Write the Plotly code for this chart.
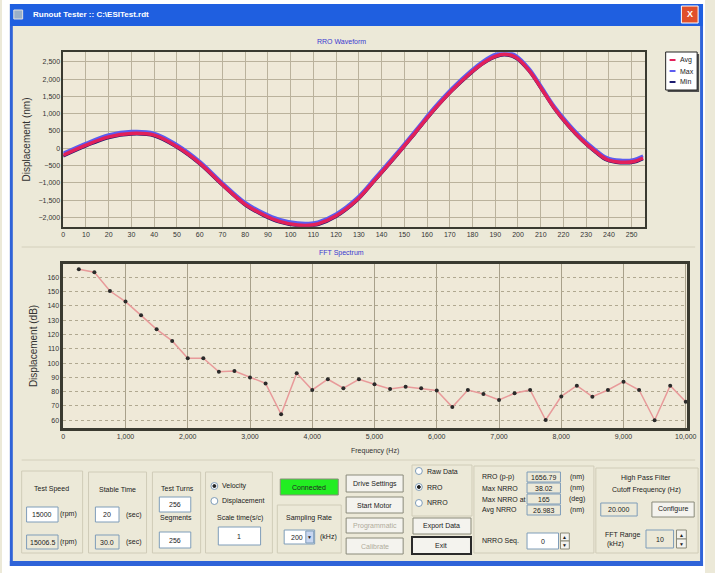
import plotly.graph_objects as go

W, H = 715, 573
FONT = "Liberation Sans"

# ---------------- data ----------------
rro_x = [0, 10, 20, 30, 40, 50, 60, 70, 80, 88, 95, 103, 108, 112, 120, 129, 137, 146,
         155, 163, 171, 179, 185, 190, 194, 199, 205, 210, 216, 222, 228, 234, 239, 245, 251, 255]
rro_avg = [-200, 90, 330, 430, 380, 50, -430, -1050, -1620, -1920, -2110, -2215, -2225, -2185,
           -1950, -1500, -920, -240, 470, 1110, 1680, 2170, 2480, 2660, 2720, 2630, 2240, 1760,
           1160, 670, 250, -90, -320, -400, -380, -280]
rro_max = [-140, 150, 390, 490, 440, 110, -370, -990, -1560, -1860, -2050, -2155, -2165, -2125,
           -1890, -1440, -860, -180, 530, 1170, 1740, 2230, 2540, 2720, 2780, 2690, 2300, 1820,
           1220, 730, 310, -30, -260, -340, -320, -220]
rro_min = [-230, 60, 300, 400, 350, 20, -460, -1080, -1650, -1950, -2140, -2245, -2255, -2215,
           -1980, -1530, -950, -270, 440, 1080, 1650, 2140, 2450, 2630, 2690, 2600, 2210, 1730,
           1130, 640, 220, -120, -350, -430, -410, -310]

fft_freq = [250, 500, 750, 1000, 1250, 1500, 1750, 2000, 2250, 2500, 2750, 3000, 3250, 3500,
            3750, 4000, 4250, 4500, 4750, 5000, 5250, 5500, 5750, 6000, 6250, 6500, 6750, 7000,
            7250, 7500, 7750, 8000, 8250, 8500, 8750, 9000, 9250, 9500, 9750, 10000]
fft_db = [165.6, 163.5, 150.4, 143.0, 133.4, 123.6, 115.5, 103.4, 103.4, 93.9, 94.4, 90.0, 85.8,
          64.2, 92.9, 81.2, 88.7, 82.4, 88.7, 85.2, 81.9, 83.5, 82.4, 80.8, 69.2, 81.2, 78.4,
          74.2, 78.9, 81.2, 60.2, 76.7, 84.2, 76.5, 81.2, 87.0, 81.2, 60.0, 84.2, 73.0]

rro_ticks = [-2000, -1500, -1000, -500, 0, 500, 1000, 1500, 2000, 2500]
legend_names = ["Avg", "Max", "Min"]
legend_colors = ["#e2205a", "#5c5cf0", "#1c1c70"]

# ---------------- helpers ----------------
def px(x):
    return x / W

def py(y):
    return 1 - y / H

shapes = []
annotations = []

def rect(x0, y0, x1, y1, fill=None, line=None, lw=1, layer="below"):
    shapes.append(dict(type="rect", xref="paper", yref="paper",
                       x0=px(x0), x1=px(x1), y0=py(y1), y1=py(y0),
                       fillcolor=fill or "rgba(0,0,0,0)",
                       line=dict(color=line or "rgba(0,0,0,0)", width=lw if line else 0),
                       layer=layer))

def hline(x0, x1, y, color, lw=1, layer="below"):
    shapes.append(dict(type="line", xref="paper", yref="paper", x0=px(x0), x1=px(x1),
                       y0=py(y), y1=py(y), line=dict(color=color, width=lw), layer=layer))

def circle(cx, cy, r, fill="white", line="#7f9db9"):
    shapes.append(dict(type="circle", xref="paper", yref="paper",
                       x0=px(cx - r), x1=px(cx + r), y0=py(cy + r), y1=py(cy - r),
                       fillcolor=fill, line=dict(color=line, width=1), layer="above"))

def text(x, y, s, size=7, color="#222222", anchor="center", bold=False):
    if bold:
        s = "<b>" + s + "</b>"
    annotations.append(dict(x=px(x), y=py(y), xref="paper", yref="paper", text=s,
                            showarrow=False, xanchor=anchor, yanchor="middle",
                            font=dict(size=size, color=color, family=FONT)))

def group(x0, y0, x1, y1):
    rect(x0, y0, x1, y1, line="#d0ccb8", lw=1)

def edit(x0, y0, x1, y1, s, fill="white"):
    rect(x0, y0, x1, y1, fill=fill, line="#7f9db9", lw=1)
    text((x0 + x1) / 2, (y0 + y1) / 2, s)

def button(x0, y0, x1, y1, s, enabled=True, thick=False):
    rect(x0, y0, x1, y1, fill="#f4f3ee", line="#2a2a2a" if thick else "#8a8a7a",
         lw=2 if thick else 1)
    text((x0 + x1) / 2, (y0 + y1) / 2, s, color="#222222" if enabled else "#b0ac9c")

def radio(x, y, label, checked=False):
    circle(x, y, 3.5)
    if checked:
        circle(x, y, 1.5, fill="#222222", line="#222222")
    text(x + 6, y, label, anchor="left")

# ---------------- window chrome ----------------
rect(0, 0, W, 4, fill="white")
rect(0, 0, 8, H, fill="white")
rect(713, 0, W, H, fill="white")
rect(0, 566, W, H, fill="white")
rect(8, 4, 713, 26, fill="#1f5fe0")
rect(8, 26, 11, 566, fill="#2f63d8")
rect(710, 26, 713, 566, fill="#2f63d8")
rect(8, 561, 713, 566, fill="#2f63d8")
rect(12, 10, 21, 19, fill="#9ab0c8", line="#e0e0e0")
text(30, 15, "Runout Tester :: C:\\ESITest.rdt", size=8, color="white", anchor="left", bold=True)
rect(691, 6, 708, 23, fill="#e0502a", line="white")
text(699.5, 14.5, "X", size=9, color="white", bold=True)

# chart titles and separators
text(345, 42, "RRO Waveform", color="#3a3ad0")
text(345, 253, "FFT Spectrum", color="#3a3ad0")
hline(20, 705, 247, "#d4d0bc")
hline(20, 705, 460, "#d4d0bc")

# manual legend
rect(677, 54, 709, 92, fill="#505050")
rect(675, 52, 707, 90, fill="white", line="#222222", lw=1)
for i, (nm, col) in enumerate(zip(legend_names, legend_colors)):
    yy = 60 + i * 11
    hline(679, 685, yy, col, lw=2, layer="above")
    text(688, yy, nm, anchor="left")

# ---------------- control panel ----------------
group(20, 471, 82, 553)
text(50, 489, "Test Speed")
edit(25, 507, 57, 522, "15000")
text(68, 514, "(rpm)")
edit(25, 535, 57, 549, "15006.5", fill="#ece9d8")
text(68, 542, "(rpm)")

group(88, 472, 147, 553)
text(117, 489, "Stable Time")
edit(95, 507, 119, 522, "20")
text(134, 515, "(sec)")
edit(95, 535, 119, 549, "30.0", fill="#ece9d8")
text(134, 542, "(sec)")

group(153, 472, 202, 553)
text(178, 488, "Test Turns")
edit(160, 497, 192, 512, "256")
text(177, 518, "Segments")
edit(160, 532, 192, 548, "256")

group(207, 472, 275, 553)
radio(216, 486, "Velocity", checked=True)
radio(216, 501, "Displacement")
text(242, 518, "Scale time(s/c)")
edit(220, 527, 263, 545, "1")

rect(283, 479, 342, 495, fill="#22ee22", line="#8a8a7a")
text(312, 487, "Connected")

group(280, 505, 345, 553)
text(312, 518, "Sampling Rate")
edit(287, 530, 318, 544, "200  ")
rect(309, 531, 317, 543, fill="#c8d6f0", line="#7f9db9")
text(313, 537, "▼", size=5)
text(332, 537, "(kHz)")

button(350, 475, 408, 492, "Drive Settings")
button(350, 497, 408, 513, "Start Motor")
button(350, 518, 408, 533, "Programmatic", enabled=False)
button(350, 538, 408, 554, "Calibrate", enabled=False)

group(417, 465, 478, 516)
radio(424, 471, "Raw Data")
radio(424, 487, "RRO", checked=True)
radio(424, 503, "NRRO")
button(418, 518, 477, 534, "Export Data")
button(417, 537, 477, 554, "Exit", thick=True)

group(480, 466, 602, 553)
stats = [("RRO (p-p)", "1656.79", "(nm)"), ("Max NRRO", "38.02", "(nm)"),
         ("Max NRRO at", "165", "(deg)"), ("Avg NRRO", "26.983", "(nm)")]
for i, (lab, val, unit) in enumerate(stats):
    yy = 477 + i * 11
    text(486, yy, lab, anchor="left")
    edit(534, yy - 5, 568, yy + 5, val, fill="#ece9d8")
    text(585, yy, unit)
text(486, 541, "NRRO Seq.", anchor="left")
edit(534, 533, 566, 549, "0")
rect(568, 533, 577, 541, fill="#f4f3ee", line="#8a8a7a")
rect(568, 541, 577, 549, fill="#f4f3ee", line="#8a8a7a")
text(572.5, 537, "▲", size=5)
text(572.5, 545, "▼", size=5)

group(604, 468, 708, 553)
text(655, 478, "High Pass Filter")
text(655, 490, "Cutoff Frequency (Hz)")
edit(609, 503, 646, 516, "20.000", fill="#ece9d8")
button(661, 502, 704, 517, "Configure")
text(611, 535, "FFT Range", anchor="left")
text(613, 544, "(kHz)", anchor="left")
edit(655, 530, 683, 548, "10", fill="#ece9d8")
rect(686, 530, 696, 539, fill="#f4f3ee", line="#8a8a7a")
rect(686, 539, 696, 548, fill="#f4f3ee", line="#8a8a7a")
text(691, 534.5, "▲", size=5)
text(691, 543.5, "▼", size=5)

# ---------------- traces ----------------
fig = go.Figure()
for nm, ys, col, w in [("Min", rro_min, legend_colors[2], 2.5),
                       ("Max", rro_max, legend_colors[1], 3),
                       ("Avg", rro_avg, legend_colors[0], 3.5)]:
    fig.add_trace(go.Scatter(x=rro_x, y=ys, name=nm, mode="lines",
                             line=dict(color=col, width=w, shape="spline", smoothing=1.0),
                             xaxis="x", yaxis="y", showlegend=False))

fig.add_trace(go.Scatter(x=fft_freq, y=fft_db, name="FFT", mode="lines+markers",
                         line=dict(color="#e89a9a", width=1.5),
                         marker=dict(color="#2a2a2a", size=4),
                         xaxis="x2", yaxis="y2", showlegend=False))

tickfont = dict(size=7, color="#333333", family=FONT)
grid = "#bab29c"

fig.update_layout(
    width=W, height=H,
    margin=dict(l=0, r=0, t=0, b=0),
    paper_bgcolor="#ece9d8",
    plot_bgcolor="#efe9d8",
    showlegend=False,
    font=dict(family=FONT, size=7, color="#222222"),
    xaxis=dict(domain=[px(62.3), px(654.3)], range=[0, 256], dtick=10, tick0=0,
               anchor="y", showgrid=True, gridcolor=grid, gridwidth=1,
               showline=True, linecolor="#3a3a30", linewidth=1.5, mirror=True,
               tickfont=tickfont, ticks="", zeroline=False),
    yaxis=dict(domain=[py(226.7), py(52.3)], range=[-2266, 2775],
               tickvals=rro_ticks, tickformat=",",
               anchor="x", showgrid=True, gridcolor=grid, gridwidth=1,
               showline=True, linecolor="#3a3a30", linewidth=1.5, mirror=True,
               tickfont=tickfont, ticks="", zeroline=False,
               title=dict(text="Displacement (nm)", font=dict(size=10, color="#333333"),
                          standoff=6)),
    xaxis2=dict(domain=[px(62.3), px(696.7)], range=[0, 10020], dtick=1000, tick0=0,
                tickformat=",", anchor="y2", showgrid=True, gridcolor="#a8a08a",
                gridwidth=1, showline=True, linecolor="#3a3a30", linewidth=2.5,
                mirror=True, tickfont=tickfont, ticks="", zeroline=False,
                title=dict(text="Frequency (Hz)", font=dict(size=7, color="#333333"),
                           standoff=9)),
    yaxis2=dict(domain=[py(428), py(264)], range=[54.6, 169.3], dtick=10, tick0=60,
                anchor="x2", showgrid=True, gridcolor="#b0a890", griddash="dot",
                gridwidth=1, showline=True, linecolor="#3a3a30", linewidth=2.5,
                mirror=True, tickfont=tickfont, ticks="", zeroline=False,
                title=dict(text="Displacement (dB)", font=dict(size=10, color="#333333"),
                           standoff=8)),
    shapes=shapes,
    annotations=annotations,
)

fig.write_html("out.html", config={"displayModeBar": False},
               post_script="document.body.style.margin='0';document.body.style.overflow='hidden';")
